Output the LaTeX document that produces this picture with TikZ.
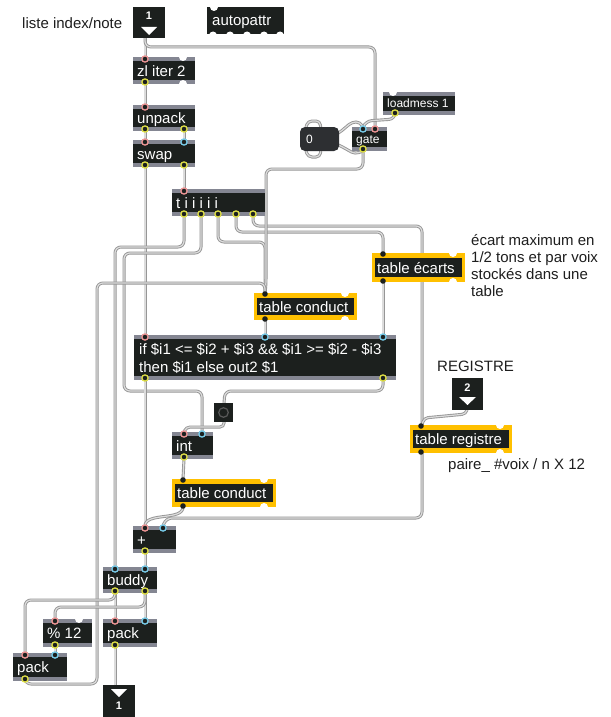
\documentclass[tikz,border=0pt]{standalone}
\usepackage{fontspec}
\setmainfont{Liberation Sans}
\definecolor{mxbody}{RGB}{28,32,30}
\definecolor{mxstrip}{RGB}{132,134,146}
\definecolor{mxyellow}{RGB}{255,192,0}
\definecolor{wireo}{RGB}{150,150,150}
\definecolor{wirei}{RGB}{220,220,220}
\definecolor{hotin}{RGB}{240,150,150}
\definecolor{coldin}{RGB}{120,205,235}
\definecolor{outc}{RGB}{225,225,70}
\definecolor{comm}{RGB}{30,30,30}
\definecolor{msgbox}{RGB}{45,47,50}
\tikzset{
  wire/.style={draw=wireo, line width=0.9pt, double=wirei, double distance=1.2pt, rounded corners=6pt},
  btext/.style={text=white, inner sep=0pt, font=\fontsize{15}{18}\selectfont, text height=11pt, text depth=0pt, anchor=west},
  stext/.style={text=white, inner sep=0pt, font=\fontsize{12}{14}\selectfont, text height=8.6pt, text depth=0pt, anchor=west},
  ctext/.style={text=comm, inner sep=0pt, font=\fontsize{15}{18}\selectfont, anchor=base west},
  numtext/.style={text=white, inner sep=0pt, font=\fontsize{11}{12}\selectfont\bfseries},
}
\newcommand\mobj[7][btext]{%
  \fill[mxstrip] (#3,#4) rectangle (#5,#6);
  \fill[mxbody] (#3,#4+4) rectangle (#5,#6-4);
  \node[#1] (#2) at (#3+4,{(#4+#6)/2}) {#7};}
\newcommand\tobj[6]{%
  \fill[mxyellow] (#2,#3) rectangle (#4,#5);
  \fill[mxbody] (#2+3,#3+5) rectangle (#4-3,#5-5);
  \fill[white] (#4-12,#3) circle (4pt);
  \fill[white] (#4-12,#5) circle (4pt);
  \fill[mxbody] (#2+11,#3+1) circle (2.8pt);
  \fill[mxbody] (#2+11,#5-1) circle (2.8pt);
  \node[btext] (#1) at (#2+5,{(#3+#5)/2}) {#6};}
\newcommand\port[3]{\filldraw[draw=#3, fill=mxbody, line width=1.3pt] (#1,#2) circle (3.1pt);}
\newcommand\notch[2]{\fill[white] (#1,#2) circle (4pt);}
\begin{document}
\begin{tikzpicture}[x=1pt,y=-1pt]
\fill[white] (0,0) rectangle (610,717);
\useasboundingbox (0,0) rectangle (610,717);
% ---------- port coordinates
\coordinate (in1o) at (145,38);
\coordinate (zli) at (145,57); \coordinate (zlo) at (145,84);
\coordinate (upi) at (145,105); \coordinate (upo1) at (145,131); \coordinate (upo2) at (184,131);
\coordinate (swi1) at (145,140); \coordinate (swi2) at (184,140);
\coordinate (swo1) at (145,167); \coordinate (swo2) at (184,167);
\coordinate (ti) at (184,189);
\coordinate (to1) at (184,216); \coordinate (to2) at (201,216); \coordinate (to3) at (218,216);
\coordinate (to4) at (236,216); \coordinate (to5) at (253,216);
\coordinate (lmo) at (395,115);
\coordinate (zeroi) at (306,127); \coordinate (zeroo) at (306,151);
\coordinate (gi1) at (363,127); \coordinate (gi2) at (375,127); \coordinate (go) at (363,151);
\coordinate (tei) at (383,253); \coordinate (teo) at (383,282);
\coordinate (tc1i) at (265,293); \coordinate (tc1o) at (265,320);
\coordinate (exi1) at (145,335); \coordinate (exi2) at (265,335); \coordinate (exi3) at (383,335);
\coordinate (exo1) at (145,380); \coordinate (exo2) at (383,380);
\coordinate (btni) at (224,403); \coordinate (btno) at (224,422);
\coordinate (inti1) at (184,432); \coordinate (inti2) at (202,432); \coordinate (into) at (184,459);
\coordinate (in2o) at (467,410);
\coordinate (tri) at (422,425); \coordinate (tro) at (422,453);
\coordinate (tc2i) at (183,479); \coordinate (tc2o) at (183,507);
\coordinate (pli1) at (145,526); \coordinate (pli2) at (163,526); \coordinate (plo) at (145,553);
\coordinate (bdi1) at (115,567); \coordinate (bdi2) at (145,567);
\coordinate (bdo1) at (115,593); \coordinate (bdo2) at (145,593);
\coordinate (modi) at (55,619); \coordinate (modo) at (55,647);
\coordinate (pri1) at (115,619); \coordinate (pri2) at (145,619); \coordinate (pro) at (115,647);
\coordinate (pLi1) at (25,653); \coordinate (pLi2) at (55,653); \coordinate (pLo) at (25,681);
\coordinate (out1i) at (115,685);
% ---------- wires
\draw[wire] (in1o) -- (zli);
\draw[wire] (in1o) -- (145,47) -- (375,47) -- (gi2);
\draw[wire] (zlo) -- (upi);
\draw[wire] (upo1) -- (swi1);
\draw[wire] (upo2) -- (swi2);
\draw[wire] (swo1) -- (exi1);
\draw[wire] (swo2) -- (ti);
\draw[wire] (to1) -- (184,247) -- (115,247) -- (bdi1);
\draw[wire] (to2) -- (201,253) -- (124,253) -- (124,391) -- (202,391) -- (inti2);
\draw[wire] (to3) -- (218,242) -- (265,242) -- (tc1i);
\draw[wire] (to4) -- (236,232) -- (383,232) -- (tei);
\draw[wire] (to5) -- (253,226) -- (422,226) -- (tri);
\draw[wire] (go) -- (363,169) -- (266,169) -- (266,285) -- (tc1i);
\draw[wire] (pLo) -- (25,684) -- (97,684) -- (97,283) -- (265,283) -- (tc1i);
\draw[wire] (lmo) -- (395,119) -- (366,121) -- (gi1);
\draw[wire, rounded corners=4pt] (zeroo) -- (308,157) -- (320,157) -- (322,140) -- (339,133) -- (352,122) -- (360,122) -- (gi1);
\draw[wire, rounded corners=4pt] (go) -- (355,154) -- (339,145) -- (322,140) -- (320,121) -- (308,121) -- (zeroi);
\draw[wire] (tc1o) -- (exi2);
\draw[wire] (teo) -- (exi3);
\draw[wire] (exo1) -- (pli1);
\draw[wire] (exo2) -- (383,391) -- (225,391) -- (btni);
\draw[wire, rounded corners=4pt] (btno) -- (224,427) -- (186,427) -- (inti1);
\draw[wire] (into) -- (tc2i);
\draw[wire] (tc2o) .. controls (183,521) and (145,512) .. (pli1);
\draw[wire] (tro) -- (422,518) -- (166,518) -- (pli2);
\draw[wire, rounded corners=4pt] (in2o) -- (466,414) -- (424,418) -- (tri);
\draw[wire] (plo) -- (bdi2);
\draw[wire] (bdo1) -- (pri1);
\draw[wire] (bdo2) -- (pri2);
\draw[wire] (bdo1) -- (115,600) -- (25,600) -- (pLi1);
\draw[wire] (bdo2) -- (145,607) -- (55,607) -- (modi);
\draw[wire] (modo) -- (pLi2);
\draw[wire] (pro) -- (out1i);
% ---------- comments
\node[ctext] (lbl) at (22,29) {liste index/note};
\node[ctext] (c1) at (471,245) {écart maximum en};
\node[ctext] (c2) at (471,262) {1/2 tons et par voix};
\node[ctext] (c3) at (471,279) {stockés dans une};
\node[ctext] (c4) at (471,296) {table};
\node[ctext] (reg) at (437,371) {REGISTRE};
\node[ctext] (paire) at (448,469) {paire\_ \#voix / n X 12};
% ---------- inlet 1
\fill[mxbody] (133,7) rectangle (165,38);
\node[numtext] (in1) at (149,16) {1};
\fill[white] (141,27) -- (157,27) -- (149,35) -- cycle;
% ---------- autopattr
\fill[mxbody] (207,7) rectangle (284,34);
\node[btext] (ap) at (212,20) {autopattr};
\notch{214}{7}
\foreach \xx in {213,230,247,264,280} {\fill[white] (\xx,35.5) circle (4pt);}
% ---------- objects
\mobj{zl}{133}{57}{195}{84}{zl iter 2}
\port{145}{59}{hotin} \notch{183}{57} \port{145}{82}{outc} \notch{183}{84}
\mobj{up}{133}{105}{195}{131}{unpack}
\port{145}{107}{hotin} \port{145}{129}{outc} \port{184}{129}{outc}
\mobj{sw}{133}{140}{195}{167}{swap}
\port{145}{142}{hotin} \port{184}{142}{coldin} \port{145}{165}{outc} \port{184}{165}{outc}
\mobj{t}{172}{189}{265}{216}{t i i i i i}
\port{184}{191}{hotin}
\foreach \xx in {184,201,218,236,253} {\port{\xx}{214}{outc}}
\mobj[stext]{lm}{383}{92}{455}{115}{loadmess 1}
\notch{393}{92} \port{395}{113}{outc}
\fill[msgbox, rounded corners=5pt] (300,127) rectangle (339,151);
\node[stext] (zero) at (306,139) {0};
\mobj[stext]{gate}{352}{127}{387}{151}{gate}
\port{363}{129}{coldin} \port{375}{129}{hotin} \port{363}{149}{outc}
\tobj{te}{372}{253}{465}{282}{table écarts}
\tobj{tca}{254}{293}{357}{320}{table conduct}
% expr
\fill[mxstrip] (134,335) rectangle (396,380);
\fill[mxbody] (134,339) rectangle (396,376);
\node[btext, anchor=base west] (ex) at (139,354) {if \$i1 <= \$i2 + \$i3 \&\& \$i1 >= \$i2 - \$i3};
\node[btext, anchor=base west] (ex2) at (139,372) {then \$i1 else out2 \$1};
\port{145}{337}{hotin} \port{265}{337}{coldin} \port{383}{337}{coldin}
\port{145}{378}{outc} \port{383}{378}{outc}
% button
\fill[mxbody] (214,403) rectangle (233,422);
\draw[black!65, line width=1.2pt] (223.5,412.5) circle (4.8pt);
\node[inner sep=0pt] (btn) at (223.5,412.5) {};
\mobj{int}{172}{432}{213}{459}{int}
\port{184}{434}{hotin} \port{202}{434}{coldin} \port{184}{457}{outc}
% inlet 2
\fill[mxbody] (452,378) rectangle (483,410);
\node[numtext] (in2) at (467.5,388) {2};
\fill[white] (459,397) -- (476,397) -- (467.5,405) -- cycle;
\tobj{tr}{410}{425}{512}{453}{table registre}
\tobj{tcb}{172}{479}{276}{507}{table conduct}
\mobj{plus}{133}{526}{176}{553}{+}
\port{145}{528}{hotin} \port{163}{528}{coldin} \port{145}{551}{outc}
\mobj{bd}{103}{567}{157}{593}{buddy}
\port{115}{569}{coldin} \port{145}{569}{coldin} \port{115}{591}{outc} \port{145}{591}{outc}
\mobj{mod}{43}{619}{92}{647}{\% 12}
\port{55}{621}{hotin} \notch{79}{619} \port{55}{645}{outc}
\mobj{pr}{103}{619}{157}{647}{pack}
\port{115}{621}{hotin} \port{145}{621}{coldin} \port{115}{645}{outc}
\mobj{pl}{13}{653}{67}{681}{pack}
\port{25}{655}{hotin} \port{55}{655}{coldin} \port{25}{679}{outc}
% outlet 1
\fill[mxbody] (103,685) rectangle (135,717);
\fill[white] (111,689) -- (127,689) -- (119,697) -- cycle;
\node[numtext] (out1) at (119,706) {1};
\end{tikzpicture}
\end{document}
